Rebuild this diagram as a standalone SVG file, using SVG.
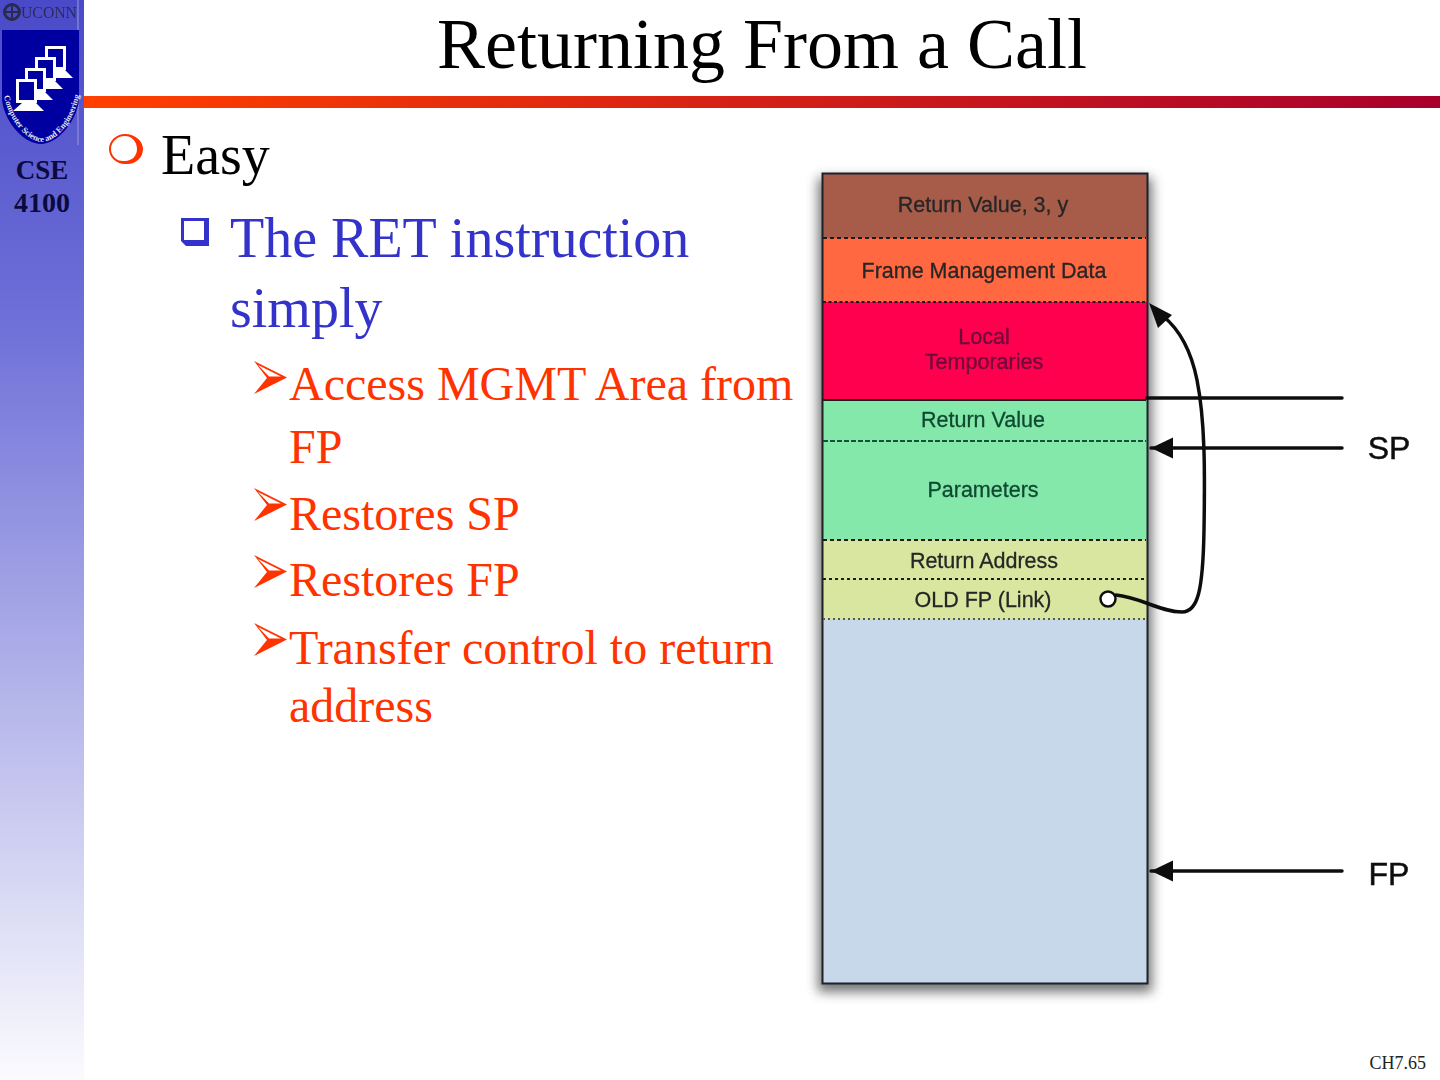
<svg xmlns="http://www.w3.org/2000/svg" width="1440" height="1080" viewBox="0 0 1440 1080">
<style>
.s{font-family:"Liberation Serif","Times New Roman",serif}
.h{font-family:"Liberation Sans",Arial,sans-serif;text-anchor:middle;fill:#262626;font-size:21.500px;stroke:#262626;stroke-width:0.300px}
.o{fill:#ff3300;font-size:48px}
.b{fill:#3333cc;font-size:56px}
.d{fill:none;stroke:#1a1a1a;stroke-width:1.800}
.a{fill:none;stroke:#111;stroke-width:3.500;stroke-linecap:round}
.p{font-family:"Liberation Sans",Arial,sans-serif;font-size:32px;fill:#111;stroke:#111;stroke-width:0.500px;text-anchor:middle}
</style>
<defs>
<linearGradient id="side" x1="0" y1="0" x2="0" y2="1"><stop offset="0" stop-color="#4a4ac8"/><stop offset="0.3" stop-color="#6f70d8"/><stop offset="0.65" stop-color="#b5b6ea"/><stop offset="1" stop-color="#fbfbfe"/></linearGradient>
<linearGradient id="bar" x1="0" y1="0" x2="1" y2="0"><stop offset="0" stop-color="#ff4000"/><stop offset="1" stop-color="#a8002c"/></linearGradient>
<filter id="sh" x="-10%" y="-5%" width="120%" height="110%"><feGaussianBlur stdDeviation="6"/></filter>
<filter id="soft" x="-5%" y="-5%" width="110%" height="110%"><feGaussianBlur stdDeviation="0.600"/></filter>
<path id="arc" d="M4 96 C10 125 30 142 42 142 C54 142 74 125 80 92"/>
<marker id="ah" markerWidth="24" markerHeight="22" refX="23" refY="11" orient="auto" markerUnits="userSpaceOnUse"><path d="M23 11 L1 0.500 V21.500 Z" fill="#111"/></marker>
<g id="mon"><rect x="1.500" y="1.500" width="18" height="21" fill="#0000a0" stroke="#fff" stroke-width="3"/><path d="M6 24 H20 L28 32 H-3 Z" fill="#fff"/></g>
</defs>
<rect width="1440" height="1080" fill="#fff"/>
<g id="sidebar">
<rect x="0" y="0" width="84" height="1080" fill="url(#side)"/>
<g id="logo">
<g filter="url(#soft)">
<text x="21" y="18" class="s" font-size="17" fill="#2a2a60" textLength="56" lengthAdjust="spacingAndGlyphs">UCONN</text>
<circle cx="12" cy="12" r="7.500" fill="none" stroke="#2a2a50" stroke-width="3"/>
<path d="M12 3 V21 M5 12 H19" stroke="#2a2a50" stroke-width="2"/>
</g>
<line x1="78" y1="0" x2="78" y2="145" stroke="#9a9ad8"/>
<path d="M2 30 H79 V100 C76 124 56 144 41 144 C25 144 5 124 2 100 Z" fill="#0000a0"/>
<use href="#mon" x="45" y="46"/>
<use href="#mon" x="35" y="57"/>
<use href="#mon" x="25" y="68"/>
<use href="#mon" x="16" y="79"/>
<text class="s" font-size="8.400" font-weight="bold" fill="#e8e8f4"><textPath href="#arc">Computer Science and Engineering</textPath></text>
</g>
<text x="42" y="179" class="s" font-size="27" font-weight="bold" fill="#0a0a40" text-anchor="middle">CSE</text>
<text x="42" y="212" class="s" font-size="28" font-weight="bold" fill="#0a0a40" text-anchor="middle">4100</text>
</g>
<g id="header">
<text x="762" y="68" class="s" font-size="72" fill="#000" text-anchor="middle">Returning From a Call</text>
<rect x="84" y="96" width="1356" height="12" fill="url(#bar)"/>
</g>
<g id="bullets">
<path d="M125 134 C135 134 143 141 143 149 C143 158 135 165 125 164 C116 164 109 157 109 149 C109 141 116 134 125 134 Z M125 136 C117 136 111 142 111 149 C111 156 117 162 125 161 C132 161 137 156 137 149 C137 142 132 136 125 136 Z" fill="#ff3300" fill-rule="evenodd"/>
<text x="161" y="174" class="s" font-size="56" fill="#000">Easy</text>
<path d="M181 218 H209 V246 H186 L181 241 Z M184 221 V240 H204 V221 Z" fill="#3333cc" fill-rule="evenodd"/>
<text x="230" y="257" class="s b">The RET instruction</text>
<text x="230" y="327" class="s b">simply</text>
<g id="arrows3">
<path id="ar" d="M254 361 L287 377.500 L254 394 L267 378 Z M258 365 L269 376.500 L281 376.500 Z" fill="#ff3300" fill-rule="evenodd"/>
<use href="#ar" y="127"/><use href="#ar" y="194"/><use href="#ar" y="262"/>
</g>
<text x="289" y="400" class="s o">Access MGMT Area from</text>
<text x="289" y="463" class="s o">FP</text>
<text x="289" y="530" class="s o">Restores SP</text>
<text x="289" y="596" class="s o">Restores FP</text>
<text x="289" y="664" class="s o">Transfer control to return</text>
<text x="289" y="722" class="s o">address</text>
</g>
<rect x="818" y="178" width="334" height="814" fill="#444" opacity="0.75" filter="url(#sh)"/>
<g id="stack" filter="url(#soft)">
<g id="n-return-3y"><rect x="822" y="173" width="325" height="65" fill="#a65c4a"/><text x="983" y="212" class="h">Return Value, 3, y</text></g>
<g id="n-frame"><rect x="822" y="238" width="325" height="64" fill="#ff6740"/><text x="984" y="278" class="h">Frame Management Data</text></g>
<g id="n-local"><rect x="822" y="302" width="325" height="98" fill="#ff0050"/><text x="984" y="344" class="h" style="fill:#6a0a38;stroke:#6a0a38">Local</text><text x="984" y="369" class="h" style="fill:#6a0a38;stroke:#6a0a38">Temporaries</text></g>
<g id="n-retval"><rect x="822" y="400" width="325" height="41" fill="#85e8ab"/><text x="983" y="427" class="h" style="fill:#0f4a30;stroke:#0f4a30">Return Value</text></g>
<g id="n-params"><rect x="822" y="441" width="325" height="99" fill="#85e8ab"/><text x="983" y="497" class="h" style="fill:#0f4a30;stroke:#0f4a30">Parameters</text></g>
<g id="n-retaddr"><rect x="822" y="540" width="325" height="39" fill="#d9e6a0"/><text x="984" y="568" class="h">Return Address</text></g>
<g id="n-oldfp"><rect x="822" y="579" width="325" height="40" fill="#d9e6a0"/><text x="983" y="607" class="h">OLD FP (Link)</text></g>
<g id="n-empty"><rect x="822" y="619" width="325" height="364" fill="#c6d8e9"/></g>
<rect x="822.500" y="173.500" width="325" height="810" fill="none" stroke="#1a2028" stroke-width="2"/>
<line class="d" x1="823" y1="238" x2="1146" y2="238" stroke-dasharray="4 3"/>
<line class="d" x1="823" y1="302" x2="1146" y2="302" stroke-dasharray="3 2.500"/>
<line class="d" x1="823" y1="400" x2="1146" y2="400"/>
<line class="d" x1="823" y1="441" x2="1146" y2="441" stroke-dasharray="5 2" style="stroke:#14503a"/>
<line class="d" x1="823" y1="540" x2="1146" y2="540" stroke-dasharray="4 3"/>
<line class="d" x1="823" y1="579" x2="1146" y2="579" stroke-dasharray="3 3"/>
<line class="d" x1="823" y1="619" x2="1146" y2="619" stroke-dasharray="2 3" style="stroke:#556"/>
</g>
<g id="connectors" filter="url(#soft)">
<line class="a" x1="1147" y1="398" x2="1342" y2="398"/>
<line class="a" x1="1342" y1="448" x2="1151" y2="448" marker-end="url(#ah)"/>
<line class="a" x1="1342" y1="871" x2="1151" y2="871" marker-end="url(#ah)"/>
<path class="a" d="M1116 595 C1140 597 1160 612 1182 612 C1198 612 1203 590 1204 530 C1205 470 1205 420 1197 380 C1191 350 1180 330 1163 316"/>
<path d="M1149 303 L1172 315 L1158 328 Z" fill="#111"/>
<circle cx="1108" cy="599" r="7.500" fill="#fff" stroke="#111" stroke-width="2.500"/>
</g>
<g id="labels" filter="url(#soft)">
<text x="1389" y="459" class="p">SP</text>
<text x="1389" y="885" class="p">FP</text>
</g>
<text x="1426" y="1069" class="s" font-size="18" fill="#222" text-anchor="end">CH7.65</text>
</svg>
